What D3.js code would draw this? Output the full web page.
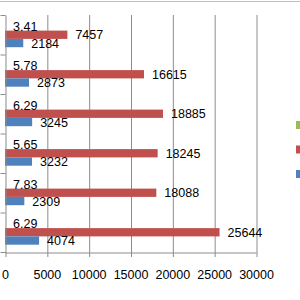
<!DOCTYPE html>
<html>
<head>
<meta charset="utf-8">
<script src="https://cdn.jsdelivr.net/npm/d3@7"></script>
<style>
  html, body { margin: 0; padding: 0; background: #fff; }
  svg { display: block; }
  .grid line { stroke: #8c8c8c; stroke-width: 1; }
  .grid path { display: none; }
  .axis path, .axis line { stroke: #8c8c8c; }
  .axis text { font-family: "Liberation Sans", Arial, sans-serif; font-size: 12.5px; fill: #000; }
  .label { font-family: "Liberation Sans", Arial, sans-serif; font-size: 12.5px; fill: #000; }
</style>
</head>
<body>
<svg id="chart" width="300" height="300"></svg>
<script>
// categories listed top to bottom
var categories = ['c1', 'c2', 'c3', 'c4', 'c5', 'c6'];
var seriesNames = ['s3', 's2', 's1'];
var greenValues = [3.41, 5.78, 6.29, 5.65, 7.83, 6.29];
var redValues = [7457, 16615, 18885, 18245, 18088, 25644];
var blueValues = [2184, 2873, 3245, 3232, 2309, 4074];
var xTicks = [0, 5000, 10000, 15000, 20000, 25000, 30000];
var colors = ['#9bbb59', '#c0504d', '#4f81bd'];

var series = [greenValues, redValues, blueValues];

var svg = d3.select('#chart'),
    margin = {top: 15, right: 44, bottom: 48, left: 5},
    width = 300 - margin.left - margin.right,
    height = 300 - margin.top - margin.bottom,
    g = svg.append('g').attr('transform', 'translate(' + margin.left + ',' + margin.top + ')');

// chart area border line at the top
svg.append('line')
    .attr('x1', 0).attr('x2', 300)
    .attr('y1', 1.5).attr('y2', 1.5)
    .attr('stroke', '#bfbfbf');

var x = d3.scaleLinear().domain([0, 30000]).range([0, width]);
var y = d3.scaleBand().domain(categories).range([0, height]).paddingInner(0.37).paddingOuter(0.185);
var ySub = d3.scaleBand().domain(seriesNames).range([0, y.bandwidth()]);

// gridlines
g.append('g')
    .attr('class', 'grid')
    .call(d3.axisBottom(x).tickValues(xTicks.slice(1)).tickSize(height).tickFormat(''))
    .selectAll('line').attr('transform', 'translate(0.5,0)');

// bars
var cat = g.selectAll('.cat')
  .data(categories)
  .enter().append('g')
    .attr('class', 'cat')
    .attr('transform', function(d) { return 'translate(0,' + y(d) + ')'; });

cat.selectAll('rect')
  .data(function(d, i) { return series.map(function(s, j) { return {name: seriesNames[j], value: s[i], color: colors[j]}; }); })
  .enter().append('rect')
    .attr('x', 0)
    .attr('y', function(d) { return ySub(d.name); })
    .attr('width', function(d) { return x(d.value); })
    .attr('height', ySub.bandwidth())
    .attr('fill', function(d) { return d.color; });

cat.selectAll('text')
  .data(function(d, i) { return series.map(function(s, j) { return {name: seriesNames[j], value: s[i]}; }); })
  .enter().append('text')
    .attr('class', 'label')
    .attr('x', function(d) { return x(d.value) + 8; })
    .attr('y', function(d) { return ySub(d.name) + ySub.bandwidth() / 2; })
    .attr('dy', '0.36em')
    .text(function(d) { return d.value; });

// x axis
g.append('g')
    .attr('class', 'axis')
    .attr('transform', 'translate(0,' + height + ')')
    .call(d3.axisBottom(x).tickValues(xTicks).tickSizeInner(5).tickSizeOuter(0).tickPadding(13).tickFormat(d3.format('d')))
    .call(function(a) { a.select('.domain').attr('transform', 'translate(0,0.5)'); a.selectAll('line').attr('transform', 'translate(0.5,0)'); });

// y axis with ticks at category boundaries
var yEdge = d3.scaleLinear().domain([0, categories.length]).range([0, height]);
g.append('g')
    .attr('class', 'axis')
    .attr('transform', 'translate(0.5,0)')
    .call(d3.axisLeft(yEdge).ticks(categories.length).tickSizeInner(5).tickSizeOuter(0).tickFormat(''));

// legend swatches (labels fall outside the visible frame)
var legend = svg.append('g').attr('transform', 'translate(296,121)');
legend.selectAll('rect')
  .data(colors)
  .enter().append('rect')
    .attr('x', 0)
    .attr('y', function(d, i) { return i * 24.5; })
    .attr('width', 8)
    .attr('height', 8)
    .attr('fill', function(d) { return d; });
</script>
</body>
</html>
